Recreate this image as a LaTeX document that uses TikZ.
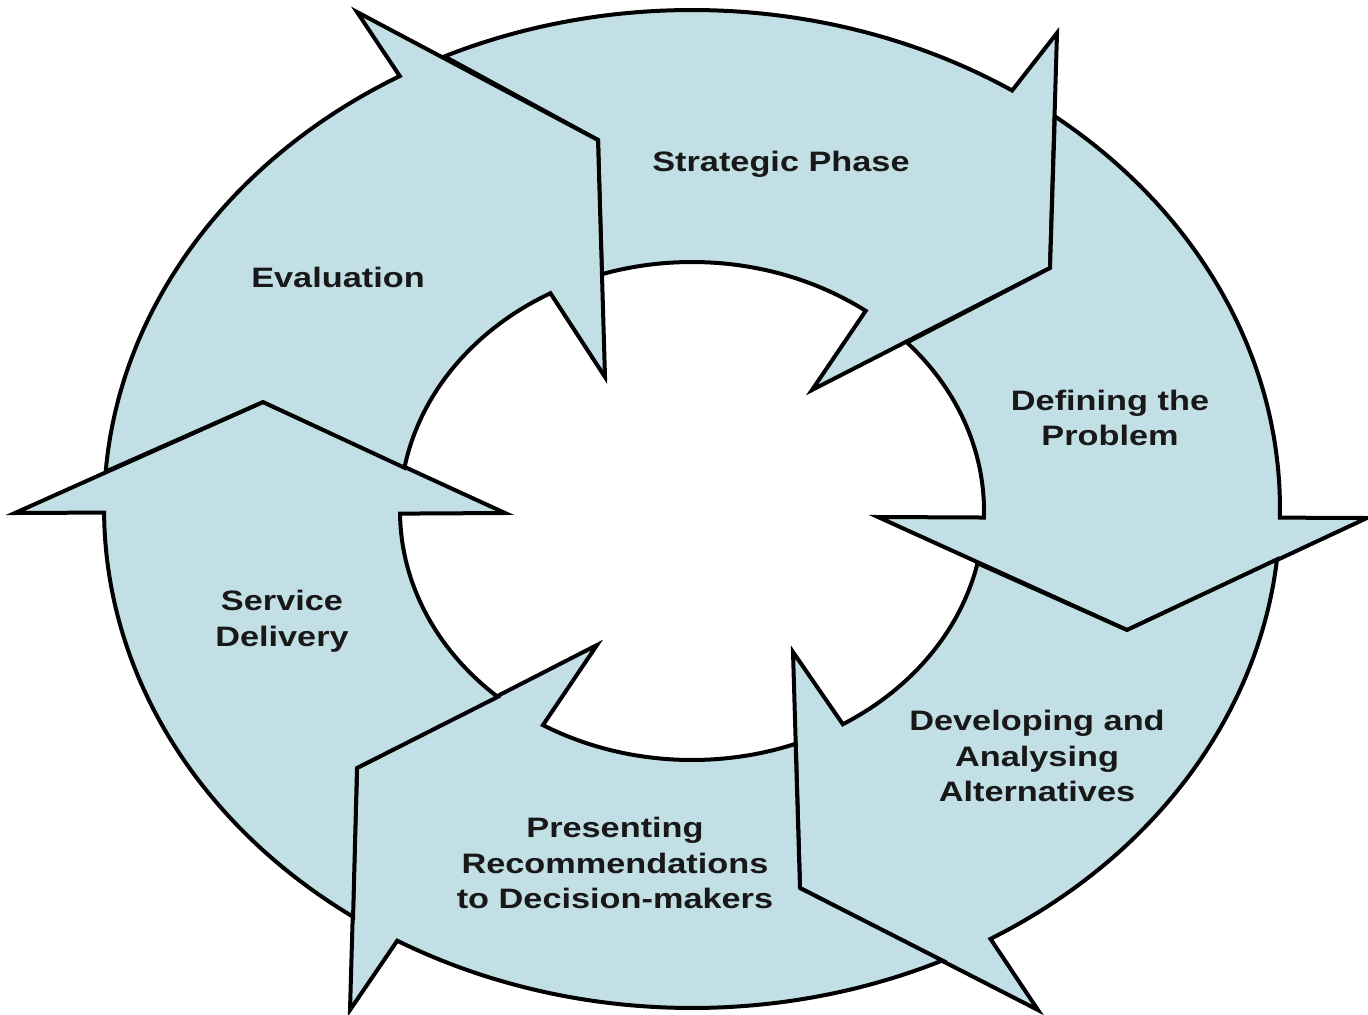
\documentclass[tikz,border=0pt]{standalone}
\usepackage{fontspec}
\newfontfamily\lab[FakeStretch=1.22]{Liberation Sans}
\definecolor{segfill}{RGB}{194,223,230}
\definecolor{txt}{RGB}{24,24,24}
\begin{document}
\begin{tikzpicture}[x=0.02cm,y=-0.02cm,
  seg/.style={fill=segfill, draw=black, line width=0.08cm, line join=miter},
  lbl/.style={font=\lab\bfseries\fontsize{16}{20.2}\selectfont, text=txt, align=center, inner sep=0pt},
  outer/.style={x radius=11.76cm, y radius=9.98cm},
  inner/.style={x radius=5.84cm, y radius=4.98cm}]
\useasboundingbox (0,0) rectangle (1368,1014);
% points on the outer ellipse (tail starts)
\coordinate (X1)  at ({692+588*cos(-114.9)},{509+499*sin(-114.9)});
\coordinate (X3)  at ({692+588*cos(-51.9)},{509+499*sin(-51.9)});
\coordinate (X5)  at ({692+588*cos(5.8)},{509+499*sin(5.8)});
\coordinate (X7)  at ({692+588*cos(64.8)},{509+499*sin(64.8)});
\coordinate (X9)  at ({692+588*cos(125.2)},{509+499*sin(125.2)});
\coordinate (X11) at ({692+588*cos(184.3)},{509+499*sin(184.3)});
% inner notches
\coordinate (SiN) at ({692+292*cos(-53.5)},{511+249*sin(-53.5)});
\coordinate (DiN) at ({692+292*cos(1.5)},{511+249*sin(1.5)});
\coordinate (ViN) at ({692+292*cos(58.9)},{511+249*sin(58.9)});
\coordinate (PiN) at ({692+292*cos(120.7)},{511+249*sin(120.7)});
\coordinate (LiN) at ({692+292*cos(179.4)},{511+249*sin(179.4)});
\coordinate (EiN) at ({692+292*cos(241)},{511+249*sin(241)});
% arrow heads: outer barb, tip, inner barb
\coordinate (EoB) at (357,12);   \coordinate (ET) at (598,140);  \coordinate (EiB) at (605,377);
\coordinate (SoB) at (1057,33);  \coordinate (ST) at (1050,268); \coordinate (SiB) at (812,390);
\coordinate (DoB) at (1367,518); \coordinate (DT) at (1127,630); \coordinate (DiB) at (878,517);
\coordinate (VoB) at (1038,1010);\coordinate (VT) at (800,888);  \coordinate (ViB) at (793,652);
\coordinate (PoB) at (350,1010); \coordinate (PT) at (357,768);  \coordinate (PiB) at (597,645);
\coordinate (LoB) at (15,513);   \coordinate (LT) at (263,402);  \coordinate (LiB) at (505,513);
% Strategic Phase
\filldraw[seg] (X1) arc[outer, start angle=114.9, end angle=57] -- (SoB) -- (ST) -- (SiB) -- (SiN)
  arc[inner, start angle=53.5, end angle=108] -- (ET) -- cycle;
% Defining the Problem
\filldraw[seg] (X3) arc[outer, start angle=51.9, end angle=-1] -- (DoB) -- (DT) -- (DiB) -- (DiN)
  arc[inner, start angle=-1.5, end angle=42.6] -- (ST) -- cycle;
% Developing
\filldraw[seg] (X5) arc[outer, start angle=-5.8, end angle=-59.5] -- (VoB) -- (VT) -- (ViB) -- (ViN)
  arc[inner, start angle=-58.9, end angle=-12.1] -- (DT) -- cycle;
% Presenting
\filldraw[seg] (X7) arc[outer, start angle=-64.8, end angle=-120.1] -- (PoB) -- (PT) -- (PiB) -- (PiN)
  arc[inner, start angle=-120.7, end angle=-69.2] -- (VT) -- cycle;
% Service Delivery
\filldraw[seg] (X9) arc[outer, start angle=-125.2, end angle=-179.6] -- (LoB) -- (LT) -- (LiB) -- (LiN)
  arc[inner, start angle=-179.4, end angle=-131.7] -- (PT) -- cycle;
% Evaluation
\filldraw[seg] (X11) arc[outer, start angle=-184.3, end angle=-240.2] -- (EoB) -- (ET) -- (EiB) -- (EiN)
  arc[inner, start angle=-241, end angle=-190] -- (LT) -- cycle;
% labels
\node[lbl] (strategic) at (781,164) {Strategic Phase};
\node[lbl] (evaluation) at (338,277) {Evaluation};
\node[lbl] (defining) at (1110,418) {Defining the\\Problem};
\node[lbl] (developing) at (1037,756) {Developing and\\Analysing\\Alternatives};
\node[lbl] (presenting) at (615,863) {Presenting\\Recommendations\\to Decision-makers};
\node[lbl] (service) at (282,621) {Service\\Delivery};
\end{tikzpicture}
\end{document}
